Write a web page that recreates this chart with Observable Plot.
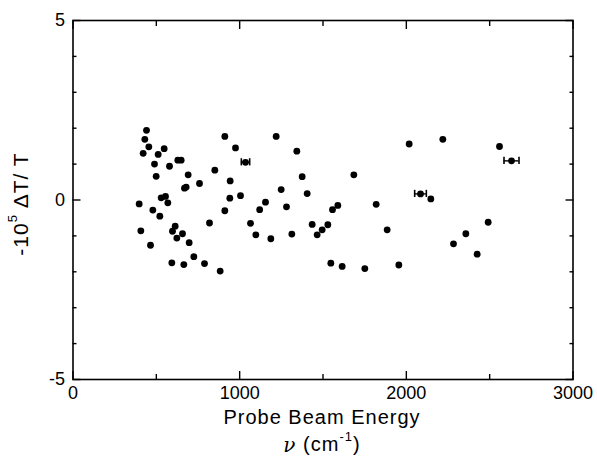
<!DOCTYPE html>
<html>
<head>
<meta charset="utf-8">
<script src="https://cdn.jsdelivr.net/npm/d3@7"></script>
<script src="https://cdn.jsdelivr.net/npm/@observablehq/plot@0.6"></script>
<style>
  body { margin: 0; background: #fff; }
  #chart svg { font-family: "Liberation Sans", Arial, sans-serif; }
</style>
</head>
<body>
<div id="chart"></div>
<script>
// Probe beam energy (cm^-1) and signal (-10^5 ΔT/T)
const energy = [441, 431, 455, 421, 511, 547, 489, 579, 629, 649, 499, 691, 911, 975, 1035, 851, 943, 759, 669, 679,
  1005, 941, 529, 555, 569, 397, 479, 521, 911, 1120, 819, 1065, 1097, 407, 613, 597, 657, 623, 697, 465,
  725, 593, 665, 789, 883, 1219, 1343, 1375, 1249, 1405, 1155, 1281, 1187, 1313, 1435, 1529, 1495, 1465, 1557, 1589,
  1685, 1819, 1885, 1547, 1615, 1751, 1955, 2017, 2219, 2085, 2147, 2559, 2631, 2491, 2357, 2283, 2425];
const signal = [1.94, 1.69, 1.48, 1.30, 1.27, 1.43, 1.00, 0.94, 1.11, 1.11, 0.66, 0.70, 1.77, 1.45, 1.05, 0.83, 0.53, 0.46, 0.33, 0.36,
  0.12, 0.05, 0.06, 0.10, -0.08, -0.11, -0.28, -0.45, -0.30, -0.27, -0.64, -0.65, -0.97, -0.86, -0.73, -0.87, -0.94, -1.06, -1.19, -1.26,
  -1.58, -1.75, -1.80, -1.77, -1.98, 1.77, 1.36, 0.65, 0.29, 0.18, -0.06, -0.19, -1.08, -0.95, -0.68, -0.69, -0.83, -0.97, -0.27, -0.15,
  0.70, -0.12, -0.83, -1.76, -1.85, -1.91, -1.81, 1.56, 1.69, 0.17, 0.03, 1.49, 1.09, -0.62, -0.94, -1.22, -1.51];

// Points carrying a horizontal error bar
const errEnergy = [1035, 2085, 2631];
const errSignal = [1.05, 0.17, 1.09];
const errHalfWidth = [25, 35, 45];

const xMajor = [0, 1000, 2000, 3000];
const xMinor = [500, 1500, 2500];
const yMajor = [-5, 0, 5];
const yMinor = [-4, -3, -2, -1, 1, 2, 3, 4];

const points = energy.map((e, i) => ({e, s: signal[i]}));
const errs = errEnergy.map((e, i) => ({e, s: errSignal[i], h: errHalfWidth[i]}));
const capHalf = 0.1;

const axisFont = {fontSize: 18};

const chart = Plot.plot({
  width: 597,
  height: 462,
  marginLeft: 72.5,
  marginRight: 24.5,
  marginTop: 20,
  marginBottom: 83,
  style: {fontFamily: "'Liberation Sans', Arial, sans-serif", color: "#000", background: "#fff"},
  x: {domain: [0, 3000], axis: null},
  y: {domain: [-5, 5], axis: null},
  marks: [
    Plot.frame({stroke: "#000", strokeWidth: 1.6}),
    // bottom and top ticks (inward)
    Plot.axisX(xMajor, {anchor: "bottom", tickSize: -8, tickPadding: 15, strokeWidth: 1.4, ...axisFont, tickFormat: d => String(d), label: null}),
    Plot.axisX(xMinor, {anchor: "bottom", tickSize: -5, strokeWidth: 1.4, tickFormat: () => "", label: null}),
    Plot.axisX(xMajor, {anchor: "top", tickSize: -8, strokeWidth: 1.4, tickFormat: () => "", label: null}),
    Plot.axisX(xMinor, {anchor: "top", tickSize: -5, strokeWidth: 1.4, tickFormat: () => "", label: null}),
    // left and right ticks (inward)
    Plot.axisY(yMajor, {anchor: "left", tickSize: -8, tickPadding: 16, strokeWidth: 1.4, ...axisFont, tickFormat: d => String(d), label: null}),
    Plot.axisY(yMinor, {anchor: "left", tickSize: -4, strokeWidth: 1.4, tickFormat: () => "", label: null}),
    Plot.axisY(yMajor, {anchor: "right", tickSize: -8, strokeWidth: 1.4, tickFormat: () => "", label: null}),
    Plot.axisY(yMinor, {anchor: "right", tickSize: -4, strokeWidth: 1.4, tickFormat: () => "", label: null}),
    // horizontal error bars with end caps
    Plot.ruleY(errs, {y: "s", x1: d => d.e - d.h, x2: d => d.e + d.h, stroke: "#000", strokeWidth: 1.4}),
    Plot.ruleX(errs, {x: d => d.e - d.h, y1: d => d.s - capHalf, y2: d => d.s + capHalf, stroke: "#000", strokeWidth: 1.6}),
    Plot.ruleX(errs, {x: d => d.e + d.h, y1: d => d.s - capHalf, y2: d => d.s + capHalf, stroke: "#000", strokeWidth: 1.6}),
    Plot.dot(points, {x: "e", y: "s", r: 3.4, fill: "#000", stroke: null})
  ]
});

// axis titles
const svg = d3.select(chart);
svg.append("text")
  .attr("x", 322).attr("y", 419)
  .attr("text-anchor", "middle").attr("dominant-baseline", "middle")
  .attr("font-size", 20).attr("letter-spacing", 1).attr("fill", "#000")
  .text("Probe Beam Energy");
const nu = svg.append("text")
  .attr("x", 322).attr("y", 446)
  .attr("text-anchor", "middle").attr("dominant-baseline", "middle")
  .attr("font-size", 20).attr("letter-spacing", 1).attr("fill", "#000");
nu.append("tspan").attr("font-style", "italic").attr("font-family", "'DejaVu Serif', serif").text("ν");
nu.append("tspan").text(" (cm");
nu.append("tspan").attr("font-size", 13).attr("dy", -8).text("-1");
nu.append("tspan").attr("dy", 8).text(")");

const yt = svg.append("text")
  .attr("transform", "translate(22,204) rotate(-90)")
  .attr("text-anchor", "middle").attr("dominant-baseline", "middle")
  .attr("font-size", 21).attr("letter-spacing", 1).attr("fill", "#000");
yt.append("tspan").text("-10");
yt.append("tspan").attr("font-size", 13).attr("dy", -8).text("5");
yt.append("tspan").attr("dy", 8).text(" ΔT/ T");

document.getElementById("chart").append(chart);
</script>
</body>
</html>
